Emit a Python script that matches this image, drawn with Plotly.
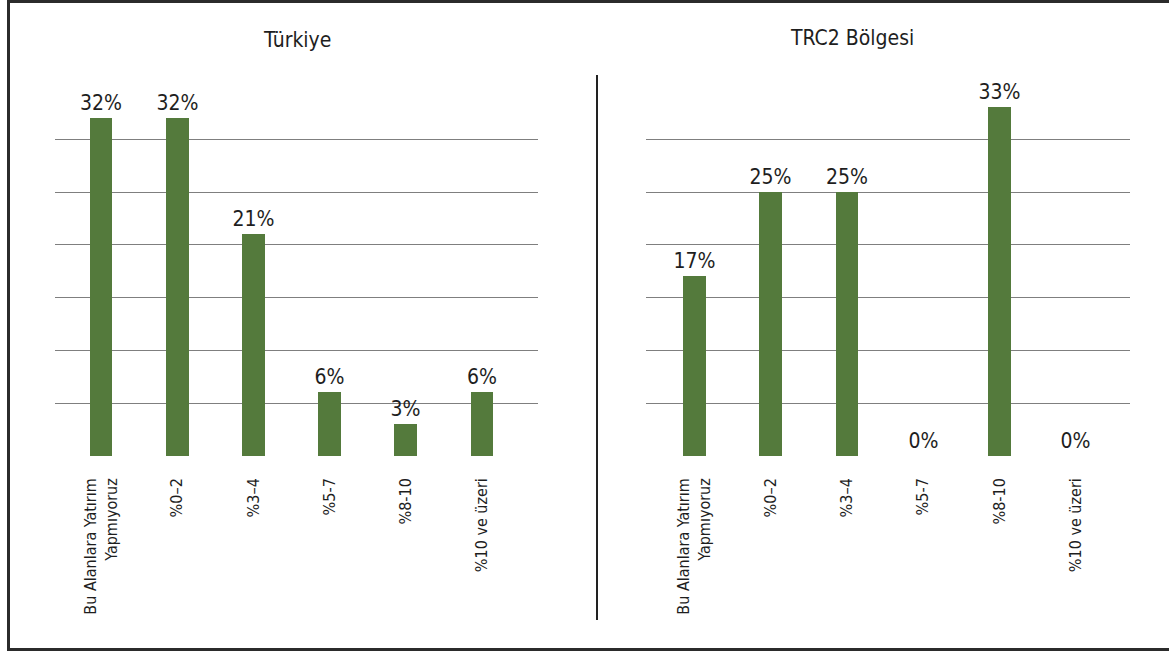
import plotly.graph_objects as go

categories = ["Bu Alanlara Yatırım<br>Yapmıyoruz", "%0–2", "%3–4", "%5-7", "%8-10", "%10 ve üzeri"]
turkiye_values = [32, 32, 21, 6, 3, 6]
trc2_values = [17, 25, 25, 0, 33, 0]
titles = ["Türkiye", "TRC2 Bölgesi"]
y_ticks = [0, 5, 10, 15, 20, 25, 30]

W, H = 1169, 652
FONT = "DejaVu Sans Condensed, Liberation Sans Narrow, sans-serif"
GREEN = "#547a3c"
TXT = "#1e1e1e"

def px(x):
    return x / W

def py(y):
    return 1 - y / H

fig = go.Figure()
for i, (vals, xa, ya) in enumerate([(turkiye_values, "x", "y"), (trc2_values, "x2", "y2")]):
    fig.add_trace(go.Bar(
        x=list(range(len(categories))), y=vals, xaxis=xa, yaxis=ya,
        marker=dict(color=GREEN, line=dict(width=0)),
        width=0.30,
        text=[f"{v}%" for v in vals], textposition="outside", constraintext="none",
        textfont=dict(family=FONT, size=21, color=TXT),
        cliponaxis=False, hoverinfo="skip", showlegend=False,
    ))

ydom = [py(456), py(86.4)]
common_x = dict(tickmode="array", tickvals=list(range(len(categories))), ticktext=categories,
                tickangle=-90, showgrid=False, zeroline=False, showline=False, ticks="",
                tickfont=dict(family=FONT, size=16, color=TXT), ticklabelstandoff=18)
common_y = dict(range=[0, 35], tickvals=y_ticks, showticklabels=False, showgrid=True,
                gridcolor="#7f7f7f", gridwidth=1, zeroline=False, showline=False, ticks="")

fig.update_layout(
    width=W, height=H, margin=dict(l=0, r=0, t=0, b=0),
    paper_bgcolor="white", plot_bgcolor="white", bargap=0,
    font=dict(family=FONT, color=TXT),
    xaxis=dict(domain=[px(55), px(538)], range=[-0.604, 5.735], anchor="y", **common_x),
    yaxis=dict(domain=ydom, anchor="x", **common_y),
    xaxis2=dict(domain=[px(646), px(1130)], range=[-0.637, 5.715], anchor="y2", **common_x),
    yaxis2=dict(domain=ydom, anchor="x2", **common_y),
    annotations=[
        dict(text=titles[0], x=px(297), y=py(40), xref="paper", yref="paper", showarrow=False,
             font=dict(family=FONT, size=21, color=TXT), xanchor="center", yanchor="middle"),
        dict(text=titles[1], x=px(852), y=py(38), xref="paper", yref="paper", showarrow=False,
             font=dict(family=FONT, size=21, color=TXT), xanchor="center", yanchor="middle"),
    ],
    shapes=[
        dict(type="line", xref="paper", yref="paper", x0=px(8.5), x1=px(8.5), y0=py(651), y1=py(0),
             line=dict(color="#2b2b2b", width=3)),
        dict(type="line", xref="paper", yref="paper", x0=px(7), x1=1, y0=py(1.5), y1=py(1.5),
             line=dict(color="#2b2b2b", width=3)),
        dict(type="line", xref="paper", yref="paper", x0=px(7), x1=1, y0=py(649.5), y1=py(649.5),
             line=dict(color="#2b2b2b", width=3)),
        dict(type="line", xref="paper", yref="paper", x0=px(597), x1=px(597), y0=py(620), y1=py(75),
             line=dict(color="#222222", width=2)),
    ],
)

fig.write_html("out.html", config={"displayModeBar": False},
               post_script="document.body.style.margin='0px';")
